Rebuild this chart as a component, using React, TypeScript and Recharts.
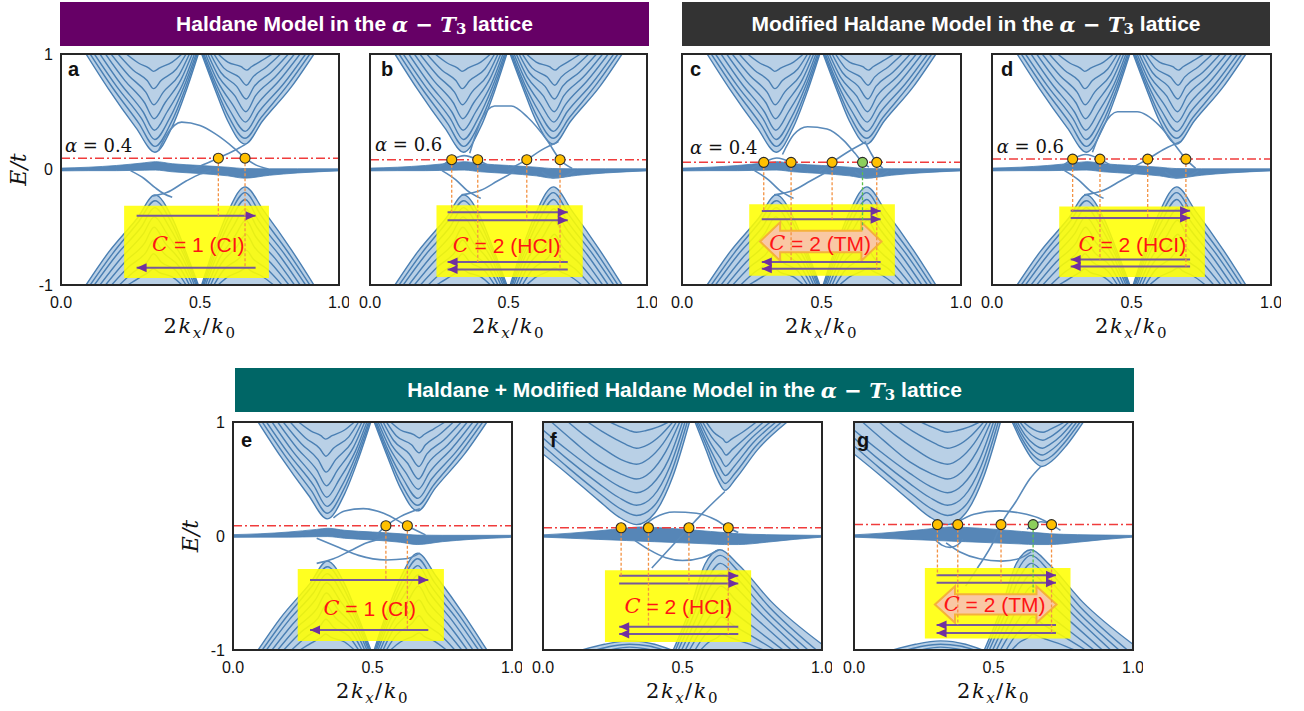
import React from 'react'
import {
  ComposedChart,
  Line,
  Area,
  XAxis,
  YAxis,
  ReferenceLine,
  ReferenceArea,
  ReferenceDot,
  Label,
} from 'recharts'

type Pt = [number, number]
type Curve = Pt[]
type Flat = [number, number, number][]

const upperLeftA: Curve[] = [
  [[0.09, 1], [0.17, 0.7], [0.27, 0.36], [0.338, 0.15], [0.4, 0.37], [0.45, 0.68], [0.494, 1]],
  [[0.105, 1], [0.185, 0.71], [0.28, 0.4], [0.338, 0.2], [0.395, 0.4], [0.447, 0.7], [0.49, 1]],
  [[0.12, 1], [0.2, 0.72], [0.29, 0.44], [0.337, 0.26], [0.39, 0.44], [0.443, 0.72], [0.486, 1]],
  [[0.14, 1], [0.215, 0.74], [0.295, 0.5], [0.336, 0.34], [0.382, 0.5], [0.438, 0.74], [0.48, 1]],
  [[0.16, 1], [0.23, 0.77], [0.3, 0.58], [0.335, 0.44], [0.375, 0.58], [0.432, 0.78], [0.472, 1]],
  [[0.18, 1], [0.245, 0.81], [0.305, 0.67], [0.334, 0.56], [0.368, 0.67], [0.425, 0.82], [0.462, 1]],
  [[0.205, 1], [0.26, 0.86], [0.31, 0.77], [0.333, 0.7], [0.36, 0.77], [0.415, 0.87], [0.45, 1]],
  [[0.235, 1], [0.28, 0.92], [0.315, 0.88], [0.332, 0.85], [0.355, 0.88], [0.4, 0.93], [0.435, 1]],
]
const upperRightA: Curve[] = [
  [[0.506, 1], [0.553, 0.7], [0.6, 0.42], [0.662, 0.22], [0.725, 0.42], [0.83, 0.72], [0.91, 1]],
  [[0.51, 1], [0.555, 0.72], [0.605, 0.45], [0.662, 0.27], [0.72, 0.45], [0.815, 0.73], [0.895, 1]],
  [[0.514, 1], [0.558, 0.74], [0.61, 0.5], [0.663, 0.33], [0.712, 0.5], [0.8, 0.74], [0.88, 1]],
  [[0.52, 1], [0.562, 0.77], [0.618, 0.56], [0.664, 0.41], [0.705, 0.56], [0.785, 0.77], [0.86, 1]],
  [[0.528, 1], [0.568, 0.8], [0.625, 0.64], [0.665, 0.5], [0.7, 0.64], [0.77, 0.8], [0.84, 1]],
  [[0.538, 1], [0.575, 0.84], [0.632, 0.72], [0.666, 0.61], [0.695, 0.72], [0.755, 0.84], [0.818, 1]],
  [[0.55, 1], [0.585, 0.88], [0.64, 0.8], [0.667, 0.73], [0.69, 0.8], [0.74, 0.89], [0.79, 1]],
  [[0.565, 1], [0.6, 0.93], [0.648, 0.89], [0.668, 0.86], [0.685, 0.89], [0.72, 0.94], [0.76, 1]],
]
const lowerLeftA: Curve[] = [
  [[0.09, -1], [0.17, -0.72], [0.275, -0.42], [0.338, -0.22], [0.4, -0.42], [0.447, -0.7], [0.494, -1]],
  [[0.105, -1], [0.185, -0.73], [0.28, -0.45], [0.338, -0.27], [0.395, -0.45], [0.445, -0.72], [0.49, -1]],
  [[0.12, -1], [0.2, -0.74], [0.288, -0.5], [0.337, -0.33], [0.39, -0.5], [0.442, -0.74], [0.486, -1]],
  [[0.14, -1], [0.215, -0.77], [0.295, -0.56], [0.336, -0.41], [0.382, -0.56], [0.438, -0.77], [0.48, -1]],
  [[0.16, -1], [0.23, -0.8], [0.3, -0.64], [0.335, -0.5], [0.375, -0.64], [0.432, -0.8], [0.472, -1]],
  [[0.182, -1], [0.245, -0.84], [0.305, -0.72], [0.334, -0.61], [0.368, -0.72], [0.425, -0.84], [0.462, -1]],
  [[0.21, -1], [0.26, -0.89], [0.31, -0.8], [0.333, -0.73], [0.36, -0.8], [0.415, -0.88], [0.45, -1]],
  [[0.24, -1], [0.28, -0.94], [0.315, -0.89], [0.332, -0.86], [0.352, -0.89], [0.4, -0.93], [0.435, -1]],
]
const lowerRightA: Curve[] = [
  [[0.506, -1], [0.55, -0.68], [0.6, -0.37], [0.662, -0.15], [0.73, -0.36], [0.83, -0.7], [0.91, -1]],
  [[0.51, -1], [0.553, -0.7], [0.605, -0.4], [0.662, -0.2], [0.72, -0.4], [0.815, -0.71], [0.895, -1]],
  [[0.514, -1], [0.557, -0.72], [0.61, -0.44], [0.663, -0.26], [0.71, -0.44], [0.8, -0.72], [0.88, -1]],
  [[0.52, -1], [0.562, -0.74], [0.618, -0.5], [0.664, -0.34], [0.705, -0.5], [0.785, -0.74], [0.86, -1]],
  [[0.528, -1], [0.568, -0.78], [0.625, -0.58], [0.665, -0.44], [0.7, -0.58], [0.77, -0.77], [0.84, -1]],
  [[0.538, -1], [0.575, -0.82], [0.632, -0.67], [0.666, -0.56], [0.695, -0.67], [0.755, -0.81], [0.82, -1]],
  [[0.55, -1], [0.585, -0.87], [0.64, -0.77], [0.667, -0.7], [0.69, -0.77], [0.74, -0.86], [0.795, -1]],
  [[0.565, -1], [0.6, -0.93], [0.645, -0.88], [0.668, -0.85], [0.685, -0.88], [0.72, -0.92], [0.765, -1]],
]
// flat band: x, lower edge, upper edge
const flatBandA: Flat = [
  [0, -0.012, 0.012], [0.1, -0.01, 0.02], [0.2, -0.01, 0.035], [0.3, -0.006, 0.058],
  [0.34, -0.005, 0.068], [0.4, -0.02, 0.05], [0.5, -0.035, 0.035], [0.6, -0.055, 0.02],
  [0.66, -0.075, 0.008], [0.75, -0.05, 0.006], [0.85, -0.03, 0.006], [1, -0.012, 0.006],
]

const upperLeftFG: Curve[] = [
  [[0, 0.72], [0.09, 0.54], [0.2, 0.31], [0.27, 0.17], [0.335, 0.1], [0.4, 0.2], [0.465, 0.52], [0.525, 1]],
  [[0, 0.79], [0.09, 0.6], [0.2, 0.38], [0.27, 0.25], [0.335, 0.18], [0.4, 0.27], [0.46, 0.56], [0.517, 1]],
  [[0, 0.86], [0.09, 0.67], [0.2, 0.46], [0.27, 0.34], [0.335, 0.27], [0.395, 0.35], [0.455, 0.61], [0.509, 1]],
  [[0, 0.93], [0.09, 0.75], [0.2, 0.55], [0.27, 0.44], [0.335, 0.38], [0.39, 0.45], [0.45, 0.67], [0.5, 1]],
  [[0.03, 1], [0.11, 0.83], [0.2, 0.65], [0.275, 0.55], [0.335, 0.5], [0.385, 0.56], [0.44, 0.74], [0.49, 1]],
  [[0.09, 1], [0.15, 0.88], [0.22, 0.76], [0.28, 0.67], [0.335, 0.63], [0.38, 0.68], [0.43, 0.81], [0.478, 1]],
  [[0.16, 1], [0.21, 0.92], [0.26, 0.85], [0.3, 0.8], [0.335, 0.77], [0.375, 0.8], [0.42, 0.88], [0.465, 1]],
  [[0.24, 1], [0.28, 0.955], [0.31, 0.925], [0.335, 0.91], [0.37, 0.925], [0.41, 0.955], [0.45, 1]],
]
const upperRightF: Curve[] = [
  [[0.545, 1], [0.585, 0.75], [0.625, 0.5], [0.652, 0.4], [0.69, 0.5], [0.77, 0.76], [0.875, 1]],
  [[0.55, 1], [0.588, 0.78], [0.628, 0.55], [0.653, 0.46], [0.688, 0.55], [0.76, 0.78], [0.855, 1]],
  [[0.556, 1], [0.592, 0.8], [0.632, 0.61], [0.654, 0.53], [0.685, 0.61], [0.75, 0.81], [0.835, 1]],
  [[0.563, 1], [0.597, 0.83], [0.636, 0.68], [0.655, 0.61], [0.682, 0.68], [0.74, 0.84], [0.815, 1]],
  [[0.572, 1], [0.604, 0.87], [0.641, 0.76], [0.656, 0.71], [0.679, 0.76], [0.73, 0.87], [0.79, 1]],
  [[0.585, 1], [0.612, 0.91], [0.645, 0.85], [0.657, 0.82], [0.676, 0.85], [0.715, 0.91], [0.765, 1]],
]
const upperRightG: Curve[] = [
  [[0.567, 1], [0.6, 0.83], [0.64, 0.67], [0.673, 0.61], [0.71, 0.66], [0.76, 0.79], [0.822, 1]],
  [[0.572, 1], [0.603, 0.85], [0.642, 0.71], [0.674, 0.66], [0.708, 0.7], [0.755, 0.82], [0.81, 1]],
  [[0.578, 1], [0.607, 0.87], [0.645, 0.75], [0.675, 0.71], [0.705, 0.75], [0.75, 0.85], [0.798, 1]],
  [[0.585, 1], [0.612, 0.89], [0.648, 0.8], [0.676, 0.77], [0.7, 0.8], [0.742, 0.88], [0.785, 1]],
  [[0.595, 1], [0.62, 0.92], [0.652, 0.86], [0.677, 0.84], [0.697, 0.86], [0.733, 0.92], [0.77, 1]],
  [[0.607, 1], [0.63, 0.955], [0.656, 0.92], [0.678, 0.91], [0.695, 0.925], [0.723, 0.96], [0.755, 1]],
]
const lowerLeftFG: Curve[] = [
  [[0.14, -1], [0.22, -0.95], [0.31, -0.92], [0.4, -0.95], [0.46, -1]],
  [[0.19, -1], [0.25, -0.965], [0.31, -0.95], [0.38, -0.965], [0.43, -1]],
  [[0.24, -1], [0.31, -0.975], [0.39, -1]],
]
const lowerRightFG: Curve[] = [
  [[0.467, -1], [0.53, -0.62], [0.58, -0.25], [0.634, -0.12], [0.7, -0.25], [0.82, -0.58], [1, -0.95]],
  [[0.475, -1], [0.535, -0.65], [0.585, -0.31], [0.635, -0.17], [0.7, -0.31], [0.81, -0.62], [0.98, -1]],
  [[0.485, -1], [0.542, -0.68], [0.59, -0.38], [0.636, -0.24], [0.698, -0.38], [0.8, -0.66], [0.95, -1]],
  [[0.497, -1], [0.55, -0.72], [0.595, -0.46], [0.637, -0.33], [0.695, -0.46], [0.79, -0.7], [0.92, -1]],
  [[0.51, -1], [0.56, -0.76], [0.6, -0.56], [0.638, -0.44], [0.69, -0.56], [0.78, -0.76], [0.89, -1]],
  [[0.525, -1], [0.57, -0.81], [0.607, -0.67], [0.639, -0.57], [0.685, -0.67], [0.765, -0.82], [0.86, -1]],
  [[0.545, -1], [0.58, -0.87], [0.615, -0.78], [0.64, -0.71], [0.68, -0.78], [0.75, -0.88], [0.83, -1]],
  [[0.565, -1], [0.595, -0.93], [0.625, -0.89], [0.641, -0.86], [0.67, -0.89], [0.73, -0.94], [0.79, -1]],
]
const flatBandFG: Flat = [
  [0, -0.01, 0.01], [0.1, -0.02, 0.025], [0.2, -0.03, 0.045], [0.3, -0.04, 0.07], [0.35, -0.045, 0.08],
  [0.4, -0.05, 0.075], [0.5, -0.06, 0.06], [0.6, -0.07, 0.04], [0.65, -0.075, 0.03], [0.7, -0.075, 0.02],
  [0.8, -0.055, 0.012], [0.9, -0.03, 0.008], [1, -0.01, 0.005],
]

// edge states
const lowerEdgesBCD: Curve[] = [
  [[0.26, -0.01], [0.31, -0.09], [0.35, -0.18], [0.4, -0.25]],
  [[0.33, -0.22], [0.4, -0.18], [0.46, -0.1], [0.52, -0.02]],
  [[0.62, -0.02], [0.66, -0.07], [0.7, -0.06], [0.74, -0.01]],
]
const edgesA: Curve[] = [
  [[0.35, 0.16], [0.38, 0.3], [0.434, 0.41], [0.5, 0.38], [0.554, 0.31], [0.62, 0.19], [0.662, 0.1], [0.7, 0.04], [0.746, 0.005]],
  [[0.47, 0], [0.52, 0.05], [0.566, 0.1], [0.62, 0.16], [0.665, 0.22]],
  [[0.25, -0.01], [0.3, -0.08], [0.34, -0.16], [0.37, -0.21], [0.4, -0.24]],
  [[0.33, -0.23], [0.38, -0.2], [0.45, -0.1], [0.5, -0.04], [0.54, -0.01]],
]
const edgesB: Curve[] = [
  [[0.25, 0.02], [0.295, 0.085], [0.34, 0.12], [0.389, 0.085], [0.43, 0.03]],
  [[0.36, 0.14], [0.4, 0.42], [0.45, 0.55], [0.51, 0.55], [0.57, 0.45], [0.64, 0.25], [0.686, 0.085], [0.73, 0.01]],
  [[0.5, 0], [0.566, 0.085], [0.62, 0.17], [0.68, 0.24]],
  ...lowerEdgesBCD,
]
const edgesC: Curve[] = [
  [[0.25, 0.01], [0.293, 0.062], [0.34, 0.1], [0.391, 0.062], [0.43, 0.01]],
  [[0.36, 0.13], [0.4, 0.3], [0.45, 0.37], [0.52, 0.35], [0.58, 0.25], [0.62, 0.14], [0.647, 0.062], [0.67, 0.02]],
  [[0.49, -0.02], [0.538, 0.062], [0.6, 0.16], [0.66, 0.24]],
  [[0.66, 0.22], [0.68, 0.13], [0.698, 0.062], [0.72, 0.01]],
  ...lowerEdgesBCD,
]
const edgesD: Curve[] = [
  [[0.245, 0.02], [0.289, 0.09], [0.335, 0.13], [0.387, 0.09], [0.43, 0.03]],
  [[0.36, 0.15], [0.4, 0.38], [0.45, 0.5], [0.52, 0.5], [0.6, 0.38], [0.66, 0.2], [0.695, 0.09], [0.73, 0.01]],
  [[0.49, 0], [0.558, 0.09], [0.62, 0.18], [0.675, 0.24]],
  ...lowerEdgesBCD,
]
const edgesE: Curve[] = [
  [[0.36, 0.16], [0.4, 0.22], [0.467, 0.24], [0.54, 0.2], [0.625, 0.088], [0.69, 0.01]],
  [[0.515, 0.01], [0.548, 0.088], [0.6, 0.17], [0.67, 0.24]],
  [[0.3, -0.02], [0.38, -0.1], [0.45, -0.17], [0.55, -0.21], [0.62, -0.2], [0.67, -0.15]],
  [[0.3, -0.24], [0.36, -0.2], [0.42, -0.13], [0.48, -0.06], [0.563, -0.01]],
]
const edgesF: Curve[] = [
  [[0.36, 0.09], [0.4, 0.16], [0.47, 0.21], [0.55, 0.2], [0.62, 0.14], [0.664, 0.072], [0.7, 0.03]],
  [[0.39, -0.28], [0.45, -0.12], [0.523, 0.072], [0.58, 0.22], [0.652, 0.39]],
  [[0.33, -0.04], [0.38, -0.12], [0.44, -0.19], [0.5, -0.215], [0.57, -0.19], [0.63, -0.12]],
]
const edgesG: Curve[] = [
  [[0.37, 0.12], [0.43, 0.19], [0.52, 0.22], [0.6, 0.2], [0.66, 0.16], [0.708, 0.1], [0.74, 0.05]],
  [[0.4, -0.44], [0.44, -0.29], [0.5, -0.05], [0.527, 0.1], [0.58, 0.3], [0.63, 0.5], [0.67, 0.61]],
  [[0.33, -0.06], [0.38, -0.14], [0.45, -0.2], [0.53, -0.22], [0.59, -0.2], [0.635, -0.14]],
  [[0.62, 0.06], [0.645, 0.1], [0.67, 0.125], [0.7, 0.11], [0.72, 0.07]],
  [[0.29, -0.03], [0.315, -0.08], [0.345, -0.1], [0.37, -0.08], [0.39, -0.03]],
]

// annotation values, panels a..g
const panelIds = ['a', 'b', 'c', 'd', 'e', 'f', 'g']
const fermiLevels = [0.098, 0.085, 0.062, 0.09, 0.09, 0.072, 0.1]
const alphaValues = ['0.4', '0.6', '0.4', '0.6']
const chernNumbers = [1, 2, 2, 2, 1, 2, 2]
const phaseTags = ['CI', 'HCI', 'TM', 'HCI', 'CI', 'HCI', 'TM']
const crossings = [
  [0.566, 0.662],
  [0.295, 0.389, 0.566, 0.686],
  [0.293, 0.391, 0.538, 0.647, 0.698],
  [0.289, 0.387, 0.558, 0.695],
  [0.548, 0.625],
  [0.28, 0.378, 0.523, 0.664],
  [0.299, 0.372, 0.527, 0.642, 0.708],
]
const dashEnds = [
  [-0.4, -0.85],
  [-0.37, -0.8, -0.44, -0.865],
  [-0.36, -0.8, -0.43, -0.53, -0.86],
  [-0.357, -0.78, -0.42, -0.84],
  [-0.386, -0.825],
  [-0.348, -0.795, -0.416, -0.86],
  [-0.345, -0.78, -0.41, -0.51, -0.85],
]
const greenCrossing = [-1, -1, 3, -1, -1, -1, 3]
const rightArrows = [[-0.4], [-0.37, -0.44], [-0.36, -0.43], [-0.357, -0.42], [-0.386], [-0.348, -0.416], [-0.345, -0.41]]
const leftArrows = [[-0.85], [-0.8, -0.865], [-0.8, -0.86], [-0.78, -0.84], [-0.825], [-0.795, -0.86], [-0.78, -0.85]]
const arrowSpans: Pt[] = [[0.272, 0.7], [0.28, 0.714], [0.286, 0.712], [0.282, 0.71], [0.276, 0.7], [0.273, 0.7], [0.296, 0.724]]
const chernBoxes = [
  [0.227, 0.748, -0.94, -0.313],
  [0.24, 0.768, -0.93, -0.31],
  [0.241, 0.763, -0.92, -0.3],
  [0.241, 0.763, -0.93, -0.32],
  [0.232, 0.756, -0.92, -0.29],
  [0.222, 0.746, -0.93, -0.3],
  [0.254, 0.776, -0.9, -0.28],
]
const chernTextAt: Pt[] = [[0.494, -0.646], [0.493, -0.655], [0.495, -0.64], [0.503, -0.645], [0.49, -0.634], [0.485, -0.61], [0.504, -0.6]]
const tmArrows: Record<string, number[]> = { c: [0.28, 0.715, -0.79, -0.457], g: [0.29, 0.726, -0.76, -0.44] }
const alphaAt: Pt[] = [[0.014, 0.148], [0.018, 0.164], [0.029, 0.134], [0.017, 0.143]]

const bandsA = { upper: [upperLeftA, upperRightA], lower: [lowerLeftA, lowerRightA], flat: flatBandA }
const bandsF = { upper: [upperLeftFG, upperRightF], lower: [lowerLeftFG, lowerRightFG], flat: flatBandFG }
const bandsG = { upper: [upperLeftFG, upperRightG], lower: [lowerLeftFG, lowerRightFG], flat: flatBandFG }
const bandSets = [bandsA, bandsA, bandsA, bandsA, bandsA, bandsF, bandsG]
const edgeSets = [edgesA, edgesB, edgesC, edgesD, edgesE, edgesF, edgesG]

// layout (plot boxes in page pixels)
const plotBoxes = [
  [61, 54, 278, 231], [370, 54, 277, 231], [682, 54, 279, 231], [992, 54, 279, 231],
  [233, 422, 279, 228], [543, 422, 279, 228], [854, 422, 279, 228],
]
const letterOffsets = [7, 11, 8, 9, 8, 7, 3]

const BAND = '#4a7fb3'
const BAND_FILL = '#adc8e2'
const EDGE = '#5a8aba'
const ORANGE_DASH = '#f39243'
const MATH = 'DejaVu Serif, Liberation Serif, serif'
const SANS = 'Liberation Sans, Arial, sans-serif'

const toXY = (c: Curve) => c.map(([x, y]) => ({ x, y }))
const above = (c: Curve) => c.map(([x, y]) => ({ x, r: [y, 1] }))
const below = (c: Curve) => c.map(([x, y]) => ({ x, r: [-1, y] }))
const flatRange = (f: Flat) => f.map(([x, lo, hi]) => ({ x, r: [lo, hi] }))

const arrowDot = (dir: number) => (p: any) => {
  if (p.index !== 1) return <g key={`n${p.index}`} />
  const b = p.cx - dir * 10
  return <polygon key="head" points={`${p.cx},${p.cy} ${b},${p.cy - 4.5} ${b},${p.cy + 4.5}`} fill="#7030a0" />
}

const doubleArrow = (p: any) => {
  const { x, y, width: w, height: h } = p
  const hl = w * 0.165
  const ins = h * 0.22
  const q = [
    [x, y + h / 2], [x + hl, y], [x + hl, y + ins], [x + w - hl, y + ins], [x + w - hl, y],
    [x + w, y + h / 2], [x + w - hl, y + h], [x + w - hl, y + h - ins], [x + hl, y + h - ins], [x + hl, y + h],
  ]
  return <polygon points={q.map((v) => v.join(',')).join(' ')} fill="#f9c8a4" stroke="#f5b13a" strokeWidth={2} />
}

const xTitle = (props: any) => {
  const vb = props.viewBox
  return (
    <text x={vb.x + vb.width / 2} y={vb.y + 48} textAnchor="middle" fontFamily={MATH} fontSize={21} fill="#111" letterSpacing={1.5}>
      2<tspan fontStyle="italic">k</tspan>
      <tspan fontStyle="italic" fontSize={15} dy={5}>x</tspan>
      <tspan dy={-5}>/</tspan>
      <tspan fontStyle="italic">k</tspan>
      <tspan fontSize={15} dy={5}>0</tspan>
    </text>
  )
}

const yTitle = (props: any) => {
  const vb = props.viewBox
  const cx = 17
  const cy = vb.y + vb.height / 2
  return (
    <text x={cx} y={cy} textAnchor="middle" dominantBaseline="central" fontFamily={MATH} fontStyle="italic" fontSize={22} fill="#111" transform={`rotate(-90, ${cx}, ${cy})`}>
      E/t
    </text>
  )
}

function Panel({ i }: { i: number }) {
  const id = panelIds[i]
  const [left, top, pw, ph] = plotBoxes[i]
  const showY = id === 'a' || id === 'e'
  const bands = bandSets[i]
  const fermi = fermiLevels[i]
  const [x0, x1] = arrowSpans[i]
  const box = chernBoxes[i]
  const tm = tmArrows[id]
  const W = 60 + pw + 10
  const H = 10 + ph + 60
  return (
    <div style={{ position: 'absolute', left: left - 60, top: top - 10 }}>
      <ComposedChart width={W} height={H} margin={{ top: 10, right: 10, bottom: 0, left: showY ? 0 : 60 }}>
        <XAxis
          type="number"
          dataKey="x"
          domain={[0, 1]}
          ticks={[0, 0.5, 1]}
          interval={0}
          allowDataOverflow
          tickFormatter={(v: number) => v.toFixed(1)}
          axisLine={false}
          tickLine={false}
          tickSize={0}
          tickMargin={12}
          height={60}
          tick={{ fontSize: 16, fill: '#111', fontFamily: SANS }}
        >
          <Label content={xTitle} />
        </XAxis>
        <YAxis
          type="number"
          domain={[-1, 1]}
          ticks={[-1, 0, 1]}
          interval={0}
          allowDataOverflow
          hide={!showY}
          width={60}
          axisLine={false}
          tickLine={false}
          tickSize={0}
          tickMargin={8}
          tick={{ fontSize: 16, fill: '#111', fontFamily: SANS }}
        >
          <Label content={yTitle} />
        </YAxis>

        {bands.upper.map((valley, vi) => (
          <Area key={`ua${vi}`} data={above(valley[0])} dataKey="r" type="monotone" stroke="none" fill={BAND_FILL} fillOpacity={0.85} dot={false} activeDot={false} isAnimationActive={false} zIndex={100} />
        ))}
        {bands.lower.map((valley, vi) => (
          <Area key={`la${vi}`} data={below(valley[0])} dataKey="r" type="monotone" stroke="none" fill={BAND_FILL} fillOpacity={0.85} dot={false} activeDot={false} isAnimationActive={false} zIndex={100} />
        ))}
        {[...bands.upper, ...bands.lower].flatMap((valley, vi) =>
          valley.map((c, ci) => (
            <Line key={`b${vi}-${ci}`} data={toXY(c)} dataKey="y" type="monotone" stroke={BAND} strokeWidth={1.4} dot={false} activeDot={false} isAnimationActive={false} zIndex={110} />
          ))
        )}
        <Area data={flatRange(bands.flat)} dataKey="r" type="monotone" stroke={BAND} strokeWidth={0.8} fill="#4d80b3" fillOpacity={0.95} dot={false} activeDot={false} isAnimationActive={false} zIndex={120} />
        {edgeSets[i].map((c, ci) => (
          <Line key={`e${ci}`} data={toXY(c)} dataKey="y" type="monotone" stroke={EDGE} strokeWidth={1.6} dot={false} activeDot={false} isAnimationActive={false} zIndex={130} />
        ))}

        <ReferenceLine y={fermi} stroke="#f03c3c" strokeWidth={1.5} strokeDasharray="9 3 2 3" zIndex={140} />
        <ReferenceArea x1={box[0]} x2={box[1]} y1={box[2]} y2={box[3]} fill="#ffff00" fillOpacity={0.87} stroke="none" ifOverflow="visible" zIndex={150} />
        {tm && <ReferenceArea x1={tm[0]} x2={tm[1]} y1={tm[2]} y2={tm[3]} shape={doubleArrow} ifOverflow="visible" zIndex={160} />}

        {rightArrows[i].map((y, k) => (
          <Line key={`ra${k}`} data={[{ x: x0, y }, { x: x1, y }]} dataKey="y" type="linear" stroke="#76599b" strokeWidth={2} dot={arrowDot(1)} activeDot={false} isAnimationActive={false} zIndex={170} />
        ))}
        {leftArrows[i].map((y, k) => (
          <Line key={`la${k}`} data={[{ x: x1, y }, { x: x0, y }]} dataKey="y" type="linear" stroke="#76599b" strokeWidth={2} dot={arrowDot(-1)} activeDot={false} isAnimationActive={false} zIndex={170} />
        ))}
        {crossings[i].map((x, k) => (
          <Line
            key={`d${k}`}
            data={[{ x, y: fermi }, { x, y: dashEnds[i][k] }]}
            dataKey="y"
            type="linear"
            stroke={greenCrossing[i] === k ? '#5cc04a' : ORANGE_DASH}
            strokeWidth={1.3}
            strokeDasharray="3 2"
            dot={false}
            activeDot={false}
            isAnimationActive={false}
            zIndex={180}
          />
        ))}
        {crossings[i].map((x, k) => (
          <ReferenceDot key={`c${k}`} x={x} y={fermi} r={5} fill={greenCrossing[i] === k ? '#8ccf5c' : '#ffc000'} stroke="#2b2b2b" strokeWidth={1.1} ifOverflow="visible" zIndex={190} />
        ))}

        <ReferenceDot
          x={chernTextAt[i][0]}
          y={chernTextAt[i][1]}
          r={0}
          ifOverflow="visible"
          zIndex={200}
          shape={(p: any) => (
            <text x={p.cx} y={p.cy} textAnchor="middle" dominantBaseline="central" fill="#ff1414" fontSize={21} fontFamily={SANS}>
              <tspan fontFamily={MATH} fontStyle="italic">C</tspan>
              <tspan>{` = ${chernNumbers[i]} (${phaseTags[i]})`}</tspan>
            </text>
          )}
        />
        {i < 4 && (
          <ReferenceDot
            x={alphaAt[i][0]}
            y={alphaAt[i][1]}
            r={0}
            ifOverflow="visible"
            zIndex={200}
            shape={(p: any) => (
              <text x={p.cx} y={p.cy} fontFamily={MATH} fontSize={18} fill="#111">
                <tspan fontStyle="italic">α</tspan>
                <tspan>{` = ${alphaValues[i]}`}</tspan>
              </text>
            )}
          />
        )}
        <ReferenceDot
          x={0}
          y={1}
          r={0}
          ifOverflow="visible"
          zIndex={200}
          shape={(p: any) => (
            <text x={p.cx + letterOffsets[i]} y={p.cy + (i < 4 ? 22 : 25)} fontFamily={SANS} fontWeight={700} fontSize={20} fill="#111">
              {id}
            </text>
          )}
        />
        <ReferenceArea x1={0} x2={1} y1={-1} y2={1} fill="none" fillOpacity={0} stroke="#262626" strokeWidth={2} ifOverflow="visible" zIndex={210} />
      </ComposedChart>
    </div>
  )
}

function Banner({ left, top, width, bg, prefix }: { left: number; top: number; width: number; bg: string; prefix: string }) {
  const math = { fontFamily: MATH, fontStyle: 'italic' as const }
  return (
    <div
      style={{
        position: 'absolute',
        left,
        top,
        width,
        height: 44,
        background: bg,
        color: '#fff',
        display: 'flex',
        alignItems: 'center',
        justifyContent: 'center',
        fontFamily: SANS,
        fontWeight: 700,
        fontSize: 21,
        whiteSpace: 'pre',
      }}
    >
      <span>{`${prefix} in the `}</span>
      <span style={math}>α</span>
      <span style={{ fontFamily: MATH }}>{' − '}</span>
      <span style={math}>T</span>
      <span style={{ fontFamily: MATH, fontSize: 15, position: 'relative', top: 5 }}>3</span>
      <span>{' lattice'}</span>
    </div>
  )
}

export default function App() {
  return (
    <div style={{ position: 'absolute', left: 0, top: 0, width: 1304, height: 711, background: '#fff' }}>
      <Banner left={60} top={2} width={589} bg="#660066" prefix="Haldane Model" />
      <Banner left={682} top={2} width={588} bg="#333333" prefix="Modified Haldane Model" />
      <Banner left={235} top={368} width={899} bg="#006666" prefix="Haldane + Modified Haldane Model" />
      {panelIds.map((id, i) => (
        <Panel key={id} i={i} />
      ))}
    </div>
  )
}
